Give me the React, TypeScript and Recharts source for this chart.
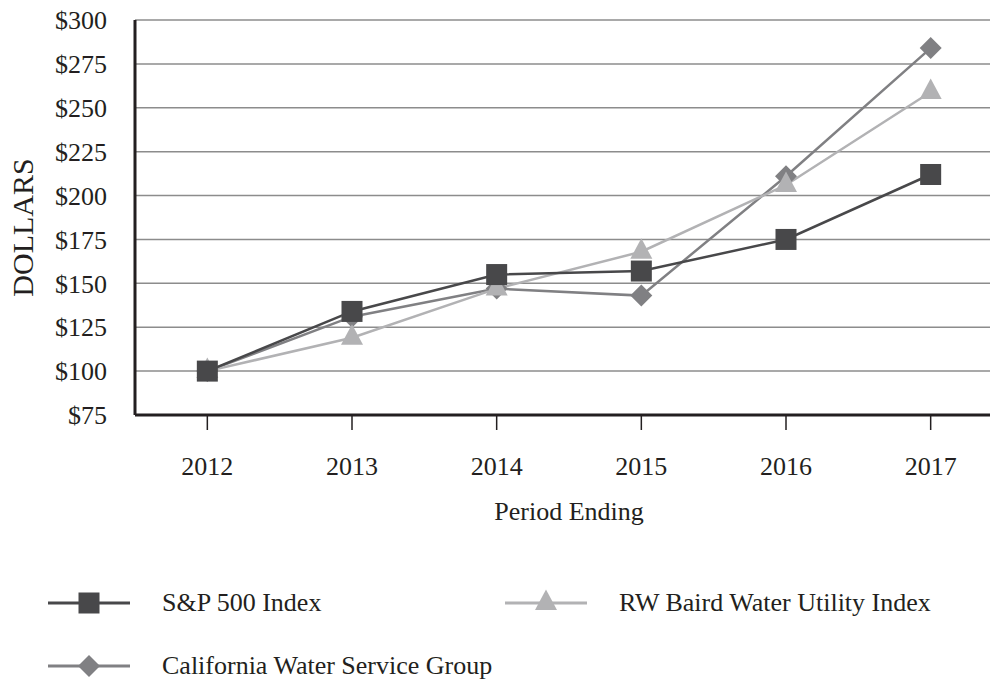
import React from 'react';
import { LineChart, Line, XAxis, YAxis, CartesianGrid } from 'recharts';

const years = [2012, 2013, 2014, 2015, 2016, 2017];
const sp500 = [100, 134, 155, 157, 175, 212];
const rwBaird = [100, 119, 147, 168, 206, 259];
const calWater = [100, 131, 147, 143, 211, 284];
const dollarTicks = [75, 100, 125, 150, 175, 200, 225, 250, 275, 300];

const data = years.map((year, i) => ({
  year,
  sp500: sp500[i],
  rwBaird: rwBaird[i],
  calWater: calWater[i],
}));

const FONT = '"Liberation Serif", "Times New Roman", serif';
const INK = '#231f20';

const drawMarker = (shape: string, cx: number, cy: number, fill: string, key?: string) => {
  if (shape === 'square') {
    return <rect key={key} x={cx - 10.5} y={cy - 10.5} width={21} height={21} fill={fill} />;
  }
  if (shape === 'triangle') {
    return (
      <polygon
        key={key}
        points={`${cx},${cy - 13.5} ${cx + 11},${cy + 7} ${cx - 11},${cy + 7}`}
        fill={fill}
      />
    );
  }
  return (
    <polygon
      key={key}
      points={`${cx},${cy - 11} ${cx + 11},${cy} ${cx},${cy + 11} ${cx - 11},${cy}`}
      fill={fill}
    />
  );
};

// drawn bottom to top
const series = [
  { key: 'calWater', name: 'California Water Service Group', color: '#808083', shape: 'diamond' },
  { key: 'rwBaird', name: 'RW Baird Water Utility Index', color: '#b2b2b4', shape: 'triangle' },
  { key: 'sp500', name: 'S&P 500 Index', color: '#48484a', shape: 'square' },
];

const legendSpots: Record<string, { left: number; top: number }> = {
  sp500: { left: 48, top: 603 },
  rwBaird: { left: 505, top: 603 },
  calWater: { left: 48, top: 666 },
};

const YearTick = (props: any) => {
  const { x, y, payload } = props;
  return (
    <text x={x} y={y} dy={45} textAnchor="middle" fill={INK} fontSize={26} fontFamily={FONT}>
      {payload.value}
    </text>
  );
};

const PeriodLabel = (props: any) => {
  const { viewBox } = props;
  return (
    <text
      x={viewBox.x + viewBox.width / 2}
      y={viewBox.y + 105}
      textAnchor="middle"
      fill={INK}
      fontSize={26}
      fontFamily={FONT}
    >
      Period Ending
    </text>
  );
};

const DollarsLabel = (props: any) => {
  const { viewBox } = props;
  const x = 33;
  const y = viewBox.y + viewBox.height / 2 + 10;
  return (
    <text
      x={x}
      y={y}
      transform={`rotate(-90 ${x} ${y})`}
      textAnchor="middle"
      fill={INK}
      fontSize={30}
      fontFamily={FONT}
    >
      DOLLARS
    </text>
  );
};

const LegendItem = ({ s }: { s: (typeof series)[number] }) => {
  const spot = legendSpots[s.key];
  return (
    <div
      style={{
        position: 'absolute',
        left: spot.left,
        top: spot.top - 15,
        height: 30,
        display: 'flex',
        alignItems: 'center',
        whiteSpace: 'nowrap',
      }}
    >
      <svg width={82} height={30}>
        <line x1={0} y1={15} x2={82} y2={15} stroke={s.color} strokeWidth={3} />
        {drawMarker(s.shape, 41, 15, s.color)}
      </svg>
      <span style={{ marginLeft: 32, fontFamily: FONT, fontSize: 26, color: INK }}>{s.name}</span>
    </div>
  );
};

export default function App() {
  return (
    <div
      style={{
        position: 'absolute',
        left: 0,
        top: 0,
        width: 990,
        height: 684,
        overflow: 'hidden',
        background: '#fff',
      }}
    >
      <LineChart width={1003} height={525} data={data} margin={{ top: 20, right: 0, left: 0, bottom: 0 }}>
        <CartesianGrid vertical={false} stroke="#8c8c8c" strokeWidth={1.5} />
        <XAxis
          dataKey="year"
          type="number"
          domain={[2011.5, 2017.5]}
          ticks={years}
          height={110}
          tickSize={15}
          tickMargin={0}
          tick={<YearTick />}
          axisLine={{ stroke: INK, strokeWidth: 3 }}
          tickLine={{ stroke: INK, strokeWidth: 1.5 }}
          label={<PeriodLabel />}
        />
        <YAxis
          type="number"
          domain={[75, 300]}
          ticks={dollarTicks}
          width={135}
          tickSize={0}
          tickMargin={28}
          tickLine={false}
          tickFormatter={(v: number) => `$${v}`}
          tick={{ fill: INK, fontSize: 26, fontFamily: FONT }}
          axisLine={{ stroke: INK, strokeWidth: 3 }}
          label={<DollarsLabel />}
        />
        {series.map((s) => (
          <Line
            key={s.key}
            dataKey={s.key}
            name={s.name}
            type="linear"
            stroke={s.color}
            strokeWidth={2.5}
            isAnimationActive={false}
            activeDot={false}
            dot={(p: any) => drawMarker(s.shape, p.cx, p.cy, s.color, `${s.key}-${p.index}`)}
          />
        ))}
      </LineChart>
      {series.map((s) => (
        <LegendItem key={s.key} s={s} />
      ))}
    </div>
  );
}
